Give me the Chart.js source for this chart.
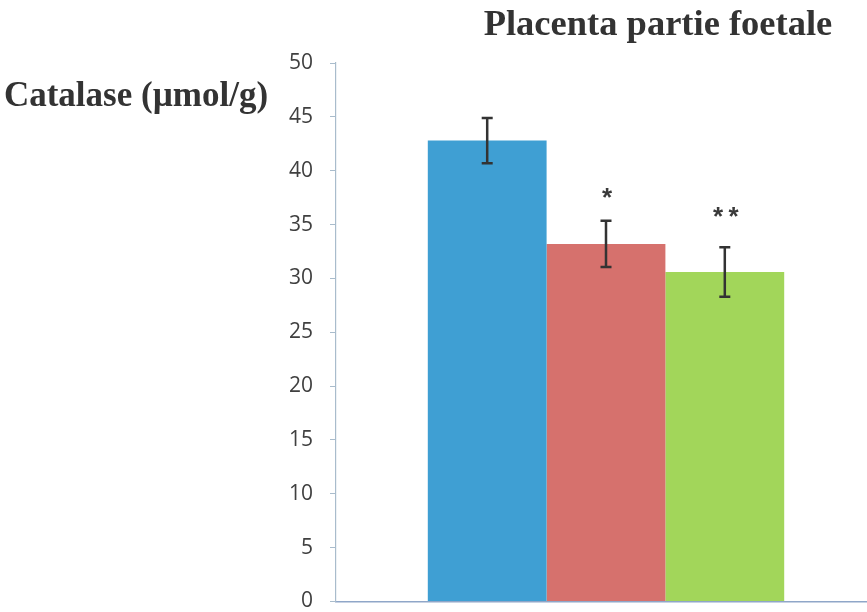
<!DOCTYPE html>
<html>
<head>
<meta charset="utf-8">
<script src="https://cdn.jsdelivr.net/npm/chart.js@4.4.1/dist/chart.umd.min.js"></script>
<style>
  html, body { margin: 0; padding: 0; background: #ffffff; overflow: hidden; }
  #wrap { position: relative; width: 867px; height: 612px; overflow: hidden; }
  #c { position: absolute; left: 0; top: 0; }
</style>
</head>
<body>
<div id="wrap"><canvas id="c" width="876" height="631"></canvas></div>
<script>
// ---- Data ----
const categories = ['Groupe 1', 'Groupe 2', 'Groupe 3'];
const means = [42.8, 33.2, 30.6];
const errors = [2.1, 2.15, 2.3];
const sigLabels = ['', '*', '**'];
const sigY = [null, 37.9, 36.2];
const colors = ['#3f9fd3', '#d6716d', '#a2d65a'];
const yTicks = [0, 5, 10, 15, 20, 25, 30, 35, 40, 45, 50];
const titleText = 'Placenta partie foetale';
const yLabelText = 'Catalase (\u00b5mol/g)';

const datasets = categories.map((name, i) => ({
  label: name,
  data: [means[i]],
  backgroundColor: colors[i],
  borderWidth: 0,
  barPercentage: 1.0,
  categoryPercentage: 0.66
}));

const overlayPlugin = {
  id: 'overlay',
  afterDatasetsDraw(chart) {
    const ctx = chart.ctx;
    const y = chart.scales.y;
    ctx.save();
    chart.data.datasets.forEach((ds, i) => {
      const bar = chart.getDatasetMeta(i).data[0];
      const x = bar.x;
      const yHi = y.getPixelForValue(means[i] + errors[i]);
      const yLo = y.getPixelForValue(means[i] - errors[i]);
      ctx.strokeStyle = '#333333';
      ctx.lineWidth = 2.5;
      ctx.beginPath();
      ctx.moveTo(x, yHi); ctx.lineTo(x, yLo);
      ctx.moveTo(x - 5.5, yHi); ctx.lineTo(x + 5.5, yHi);
      ctx.moveTo(x - 5.5, yLo); ctx.lineTo(x + 5.5, yLo);
      ctx.stroke();
      if (sigLabels[i]) {
        ctx.fillStyle = '#3a3a3a';
        ctx.font = 'bold 26px "Liberation Sans", Arial, sans-serif';
        ctx.textAlign = 'center';
        ctx.textBaseline = 'middle';
        const txt = sigLabels[i].split('').join('\u2009');
        ctx.fillText(txt, x + 1, y.getPixelForValue(sigY[i]) + 6);
      }
    });
    ctx.fillStyle = '#333333';
    ctx.textBaseline = 'alphabetic';
    ctx.textAlign = 'center';
    ctx.font = 'bold 36.5px "Liberation Serif", "Times New Roman", serif';
    ctx.fillText(titleText, 658, 35);
    ctx.font = 'bold 35px "Liberation Serif", "Times New Roman", serif';
    ctx.fillText(yLabelText, 136, 106);
    ctx.restore();
  }
};

new Chart(document.getElementById('c'), {
  type: 'bar',
  data: { labels: [''], datasets },
  options: {
    responsive: false,
    animation: false,
    devicePixelRatio: 1,
    layout: { padding: { left: 250, top: 63, right: 0, bottom: 0 } },
    plugins: { legend: { display: false }, tooltip: { enabled: false }, title: { display: false } },
    scales: {
      x: {
        grid: { display: false, drawTicks: false },
        border: { display: true, color: '#8fa6c8', width: 1.5 },
        ticks: { display: false },
        afterFit(s) { s.height = 0; }
      },
      y: {
        min: 0, max: 50,
        afterBuildTicks(s) { s.ticks = yTicks.map(v => ({ value: v })); },
        grid: { drawOnChartArea: false, drawTicks: true, tickLength: 6, color: '#a9bccc' },
        border: { display: true, color: '#a9bccc', width: 1.2 },
        ticks: { color: '#404040', padding: 17, font: { family: '"Open Sans", "Liberation Sans", sans-serif', size: 21 } },
        afterFit(s) { s.width = 86; }
      }
    }
  },
  plugins: [overlayPlugin]
});
</script>
</body>
</html>
